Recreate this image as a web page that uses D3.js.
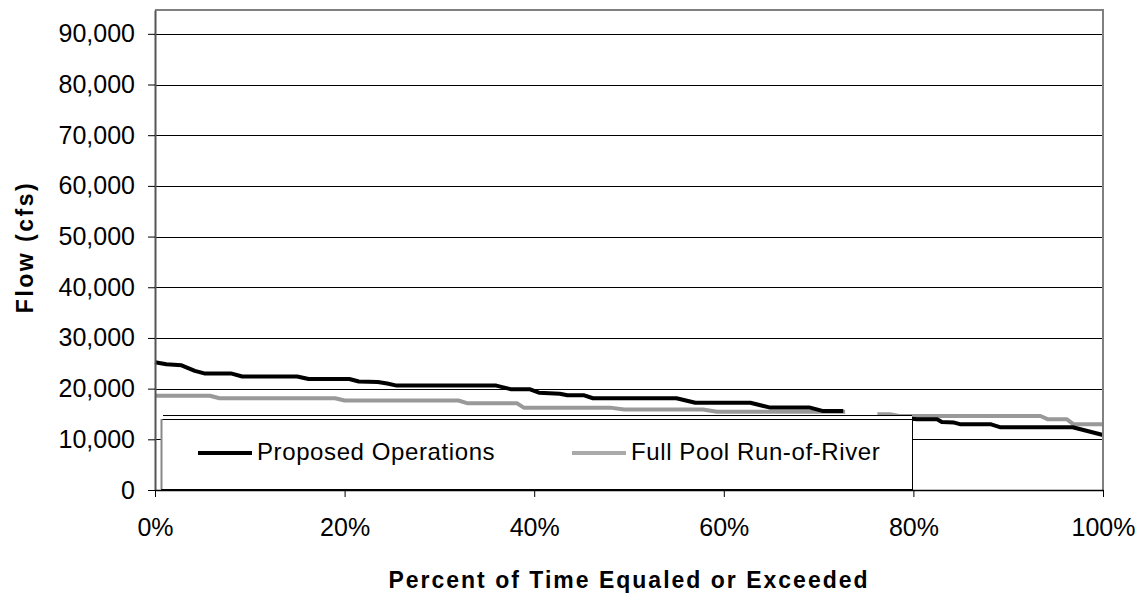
<!DOCTYPE html>
<html>
<head>
<meta charset="utf-8">
<script src="https://cdn.jsdelivr.net/npm/d3@7"></script>
<style>
  html, body { margin: 0; padding: 0; background: #fff; }
  svg { display: block; font-family: "Liberation Sans", Arial, sans-serif; }
</style>
</head>
<body>
<svg id="chart" width="1145" height="595"></svg>
<script>
// ---- data ----
const yTicks = [0, 10000, 20000, 30000, 40000, 50000, 60000, 70000, 80000, 90000];
const xTicks = [0, 20, 40, 60, 80, 100];
const seriesNames = ["Proposed Operations", "Full Pool Run-of-River"];

const proposedPct  = [0, 1.2, 2.8, 4.2, 5.2, 8.0, 9.2, 15.0, 16.2, 20.5, 21.5, 23.5, 24.5, 25.5, 36.0, 37.5, 39.5, 40.5, 42.7, 43.5, 45.2, 46.2, 55.0, 57.0, 62.8, 64.8, 69.0, 70.4, 72.6, 74.0, 76.5, 79.5, 80.4, 82.5, 83.0, 84.3, 85.0, 88.2, 89.2, 96.8, 100];
const proposedFlow = [25200, 24800, 24600, 23500, 23000, 23000, 22400, 22400, 21900, 21900, 21400, 21300, 21000, 20600, 20600, 19900, 19900, 19200, 19000, 18700, 18700, 18100, 18100, 17200, 17200, 16300, 16300, 15600, 15600, null, 14300, 14100, 13950, 13950, 13400, 13300, 12950, 12950, 12370, 12370, 10850];

const fullPoolPct  = [0, 5.8, 6.8, 19.0, 20.0, 32.0, 33.0, 38.2, 38.9, 48.0, 49.5, 57.8, 59.3, 72.8, 74.0, 76.2, 77.5, 78.5, 93.4, 94.2, 96.2, 96.9, 100];
const fullPoolFlow = [18600, 18600, 18100, 18100, 17650, 17650, 17100, 17100, 16250, 16250, 15900, 15900, 15450, 15450, null, 14950, 14950, 14600, 14600, 13950, 13950, 12950, 12950];

const colors = ["#000000", "#999999"];

// ---- layout ----
const svg = d3.select("#chart");
const L = 155, R = 1103, T = 10, B = 490;
const x = d3.scaleLinear().domain([0, 100]).range([L, R]);
const y = d3.scaleLinear().domain([0, 94700]).range([B, T]);

// gridlines
svg.append("g")
  .selectAll("line")
  .data(yTicks.filter(d => d > 0))
  .join("line")
  .attr("x1", L).attr("x2", R)
  .attr("y1", d => Math.round(y(d)) + 0.5).attr("y2", d => Math.round(y(d)) + 0.5)
  .attr("stroke", "#000").attr("stroke-width", 1);

// series lines
const series = [
  proposedPct.map((p, i) => ({p, v: proposedFlow[i]})),
  fullPoolPct.map((p, i) => ({p, v: fullPoolFlow[i]}))
];
const line = d3.line()
  .defined(d => d.v !== null)
  .x(d => x(d.p)).y(d => y(d.v));

// draw gray first so the black sits on top
[1, 0].forEach(i => {
  svg.append("path")
    .datum(series[i])
    .attr("d", line)
    .attr("fill", "none")
    .attr("stroke", colors[i])
    .attr("stroke-width", 4)
    .attr("stroke-linejoin", "round");
});

// legend
const lg = svg.append("g");
const lgX0 = 161, lgX1 = 912, lgY0 = 419, lgY1 = 489;
lg.append("rect")
  .attr("x", lgX0).attr("y", 415).attr("width", lgX1 - lgX0).attr("height", B - 415)
  .attr("fill", "#fff");
lg.append("line")
  .attr("x1", 163).attr("x2", lgX1).attr("y1", 415.5).attr("y2", 415.5)
  .attr("stroke", "#000").attr("stroke-width", 1);
lg.append("rect")
  .attr("x", lgX0 + 0.5).attr("y", lgY0 + 0.5).attr("width", lgX1 - lgX0).attr("height", lgY1 - lgY0)
  .attr("fill", "#fff").attr("stroke", "#000").attr("stroke-width", 1);
lg.append("line")
  .attr("x1", lgX0 + 0.5).attr("x2", lgX0 + 0.5).attr("y1", lgY0).attr("y2", lgY1)
  .attr("stroke", "#888").attr("stroke-width", 2);

const legendItems = [
  {name: seriesNames[0], color: colors[0], x: 198},
  {name: seriesNames[1], color: "#aaaaaa", x: 572}
];
legendItems.forEach(it => {
  lg.append("line")
    .attr("x1", it.x).attr("x2", it.x + 54)
    .attr("y1", 453).attr("y2", 453)
    .attr("stroke", it.color).attr("stroke-width", 4);
  lg.append("text")
    .attr("x", it.x + 59).attr("y", 460)
    .attr("font-size", 24).attr("letter-spacing", "0.6px")
    .attr("fill", "#000")
    .text(it.name);
});

// frame (top & right)
svg.append("line").attr("x1", L).attr("x2", R + 1).attr("y1", T).attr("y2", T)
  .attr("stroke", "#808080").attr("stroke-width", 2);
svg.append("line").attr("x1", R).attr("x2", R).attr("y1", T).attr("y2", B)
  .attr("stroke", "#808080").attr("stroke-width", 2);

// axes
const yAxis = d3.axisLeft(y)
  .tickValues(yTicks)
  .tickFormat(d3.format(","))
  .tickSize(7).tickSizeOuter(0).tickPadding(13);
const gy = svg.append("g").attr("transform", `translate(${L},0)`).call(yAxis);
gy.select(".domain").attr("stroke", "#555").attr("stroke-width", 2);
gy.selectAll(".tick line").attr("stroke", "#000");
gy.selectAll("text").attr("font-size", 25).attr("fill", "#000")
  .attr("font-family", "Liberation Sans, Arial, sans-serif");

const xAxis = d3.axisBottom(x)
  .tickValues(xTicks)
  .tickFormat(d => d + "%")
  .tickSize(7).tickSizeOuter(0).tickPadding(21);
const gx = svg.append("g").attr("transform", `translate(0,${B})`).call(xAxis);
gx.select(".domain").attr("stroke", "#000").attr("stroke-width", 1.5);
gx.selectAll(".tick line").attr("stroke", "#000");
gx.selectAll("text").attr("font-size", 25).attr("fill", "#000")
  .attr("font-family", "Liberation Sans, Arial, sans-serif");

// axis titles
svg.append("text")
  .attr("x", (L + R) / 2).attr("y", 588)
  .attr("text-anchor", "middle")
  .attr("font-size", 23).attr("font-weight", "bold").attr("letter-spacing", "2px")
  .text("Percent of Time Equaled or Exceeded");

svg.append("text")
  .attr("transform", `translate(33,${(T + B) / 2 - 3}) rotate(-90)`)
  .attr("text-anchor", "middle")
  .attr("font-size", 23).attr("font-weight", "bold").attr("letter-spacing", "2.5px")
  .text("Flow (cfs)");
</script>
</body>
</html>
